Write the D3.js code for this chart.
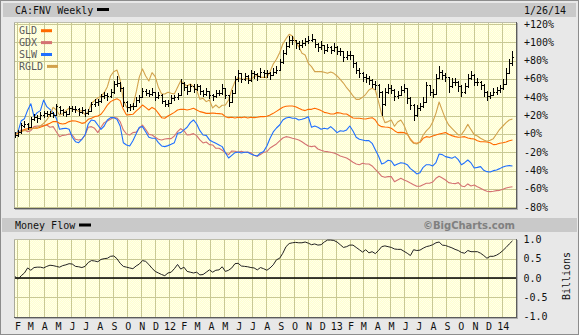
<!DOCTYPE html>
<html><head><meta charset="utf-8">
<script src="https://cdn.jsdelivr.net/npm/d3@7"></script>
<style>
html,body{margin:0;padding:0;background:#e8e8e8;}
svg{display:block;}
text{font-family:"DejaVu Sans Mono",monospace;font-size:10px;}
</style></head><body>
<svg id="c" width="579" height="335"></svg>
<script>
// ---------- DATA ----------
const firstWeek = "2011-01-28";   // weekly bars, one per week
const lastDateLabel = "1/26/14";
const symbol = "CA:FNV Weekly";

// FNV weekly OHLC, % change
const fnvOpen = [0,-1,2,9,11,8,16,19,17,21,23,22,23,21,29,26,24,22,28,27,27,24,26,23,25,33,35,36,41,43,41,46,55,56,50,35,29,30,31,37,40,47,45,44,46,40,43,36,33,34,39,40,43,56,51,47,52,49,52,47,44,47,42,41,45,45,50,42,35,45,60,66,60,63,59,66,65,63,68,66,66,64,68,70,78,88,96,103,102,99,97,99,101,103,104,98,95,97,92,95,92,95,91,90,84,86,86,77,70,66,62,61,59,55,53,46,33,46,50,48,41,43,48,50,39,32,21,28,30,35,53,46,44,61,68,64,62,52,57,57,52,46,52,61,64,57,57,53,46,41,43,46,48,50,55,66,77];
const fnvHigh = [2,4,12,14,12,18,22,21,24,25,25,25,24,33,30,27,25,30,31,30,28,29,27,27,35,38,38,44,46,45,49,58,63,57,51,36,33,34,40,43,50,49,48,50,46,46,44,37,37,42,43,45,60,57,53,55,54,55,53,48,50,47,44,48,48,54,50,43,48,63,70,67,66,64,70,69,67,72,70,70,68,72,74,82,92,100,107,107,103,101,103,105,107,109,104,99,101,97,98,96,99,96,94,90,90,90,86,78,72,68,65,63,60,58,54,47,50,54,53,49,47,52,54,50,40,33,32,34,40,57,53,49,65,74,70,67,62,61,61,58,53,56,65,69,65,61,58,54,47,46,50,51,53,60,72,82,90];
const fnvLow = [-3,-2,1,8,5,8,15,13,16,19,20,20,19,21,23,21,20,22,25,24,21,23,20,22,25,31,32,35,39,37,40,45,52,47,30,25,26,27,30,35,40,42,41,43,37,39,34,30,31,34,37,38,43,48,44,47,46,48,44,41,43,39,37,40,42,44,39,31,35,45,58,57,59,56,58,61,59,62,62,62,60,64,66,70,77,87,95,98,94,93,95,97,99,101,95,91,93,88,90,88,91,87,86,80,82,82,73,66,62,58,57,55,51,49,40,21,32,45,45,37,39,43,46,34,27,15,20,26,29,35,42,40,44,61,60,58,46,51,53,47,41,45,51,60,53,53,49,41,37,39,42,44,46,49,55,66,75];
const fnvClose = [-1,2,10,11,8,16,19,17,21,23,22,23,21,30,26,24,22,28,27,27,24,26,23,25,33,35,36,41,43,41,46,55,56,50,35,29,30,31,37,40,47,45,44,46,40,43,36,33,34,39,40,43,56,51,47,52,49,52,47,44,47,42,41,45,45,50,42,35,45,60,66,60,63,59,66,65,63,68,66,66,64,68,70,78,88,96,103,102,99,97,99,101,103,104,98,95,97,92,95,92,95,91,90,84,86,86,77,70,66,62,61,59,55,53,46,33,46,50,48,41,43,48,50,39,32,21,28,30,35,53,46,44,61,68,64,62,52,57,57,52,46,52,61,64,57,57,53,46,41,43,46,48,50,55,66,77,84];

const gld = [0,0.7,2.5,5,5.8,6.2,6.2,6.2,7.3,8.7,10.2,11.6,13.5,13.5,11.6,10.9,11.6,13.5,14.5,14.2,13.1,11.6,12.4,16,17.1,18.9,19.6,21.5,26.2,31.6,35.3,37.1,38.5,36.4,26.9,20.7,21.1,21.5,25,28,31.6,29,26.2,29,27,22.5,17.8,17.1,19.6,21.5,23.6,26.2,26.9,26.9,26.2,26.9,28,26.2,24.4,23.6,22.5,22.5,22.9,22.5,22.2,21.8,18.9,17.8,18.2,17.5,18.2,17.8,18.5,17.5,18.2,17.8,18.2,18.9,18.9,19.3,20.7,22.5,24.7,26.9,29.1,30.2,30.5,30.5,29.8,28,26.5,25.5,26.9,26.9,28,26.9,25.5,23.6,22.9,21.8,21.8,23.3,22.9,21.8,21.8,19.6,17.5,17.1,17.1,16.7,16.4,17.1,17.8,15.3,9.8,8,7.6,7.3,6.2,3.6,1.5,1.8,1.5,0,-5.5,-9.5,-10.2,-9.1,-4.7,-2.9,-3.6,-2.2,-1.1,0,0.7,1.5,-0.4,-1.8,-2.9,-3.6,-3.3,-2.9,-4.4,-5.1,-5.5,-7.3,-8.4,-8.4,-8.7,-9.5,-11.6,-11.3,-10.2,-9.5,-8.7,-7.3,-6.5];
const gdx = [0,1.5,4.4,4.4,2.5,3.6,8,8.7,8.7,9.1,9.8,7.3,8,2.5,-2.9,-1.5,-1.1,0,-1.1,-5.8,-6.5,-5.8,-1.1,7.3,8,6.2,1.5,7.3,12.4,14.2,16,18.2,17.5,13.5,4.4,0,-1.1,1.5,2,6,9.8,5.1,-0.4,-1.1,-3.6,-5.8,-6.5,-5.5,-5.1,-5.1,-2.2,2.5,5.8,3.6,-1.1,-0.7,0.4,-1.8,-6.5,-9.8,-8.7,-11.6,-12,-15.6,-15.6,-17.8,-20.4,-22.5,-18.5,-18.9,-20,-18.9,-20,-19.6,-20.4,-23.3,-24.4,-22.5,-20,-19.3,-15.3,-13.1,-10.9,-7.6,-4.4,-2.9,-3.6,-4.7,-5.5,-6.5,-8.4,-10.9,-13.1,-13.8,-13.1,-16.4,-17.8,-18.9,-19.3,-20,-20.7,-22.2,-24,-25.1,-26.2,-28.4,-30.9,-32.7,-33.5,-32,-32.7,-32.7,-34.9,-38.5,-42.2,-46.2,-47.3,-46.5,-46.5,-52,-50.2,-48.4,-50.2,-51.6,-53.5,-55.3,-57.1,-57.1,-55.3,-53.8,-53.8,-52.4,-48.4,-46.2,-48,-50.2,-53.1,-53.8,-54.2,-53.1,-56.7,-57.5,-54.5,-56.7,-55.6,-57.5,-59.3,-61.1,-62.5,-62.9,-62.5,-61.8,-61.5,-60.4,-58.9,-58.2,-57.5];
const slw = [0,2.5,14.5,16.7,26,33,18.9,23.3,25.5,37,29.8,26.9,23.3,17.1,5.1,5.8,6.2,5.1,-3.6,-8.4,-9.5,-5.8,-1.1,10.9,15.3,14.5,9.8,5.1,8.7,15.3,17.8,17.8,16,8.7,-9.5,-12,-13.1,-7.3,0,7.3,8,2.5,-3.6,-4.7,-4.7,-9.5,-13.1,-13.8,-12.7,-11.3,-9.5,0.7,1.5,4.4,7.3,12.4,15.3,10.9,3.6,-1.1,-1.5,-6.5,-8.4,-10.2,-12,-13.8,-20.4,-26.2,-23.3,-20.4,-19.6,-20.7,-20,-20,-21.8,-23.3,-24,-20.7,-19,-13.1,-4.7,2.2,6.5,9.8,15.3,17.5,18.2,17.1,17.1,15.3,16,17.1,18.9,7.3,8.7,7.3,5.1,6.2,5.5,8,5.1,1.5,3.6,2.9,4.4,8.7,3.3,-3.6,-5.8,-6.5,-7.3,-7.3,-10.2,-17.1,-24,-32.7,-31.3,-28.7,-29.5,-34.5,-32.7,-31.3,-32,-33.5,-37.8,-40.4,-43.6,-42.2,-36.4,-33.5,-33.5,-34.9,-31.3,-21.8,-22.5,-24.7,-25.5,-26.5,-24.7,-28,-33.5,-31.3,-28.4,-31.6,-37.1,-36.4,-35.6,-39.6,-41.1,-41.5,-40,-39.3,-37.8,-36,-34.9,-34.5,-34.9];
const rgld = [0,1.5,2.9,3.6,4.4,5.5,6.2,7.3,8.7,11.6,15.3,20.7,29.1,26.2,20.7,22.2,25.5,28,27.6,26.2,24.7,25.5,21.1,24.4,33.5,36.4,39.3,41.1,45.1,51.6,63.3,68,69.8,58.9,37.1,29.1,28.4,30.5,45,62,71,63.3,57.8,66.9,62.5,50.9,43.6,43.6,45.5,44.4,43.6,50.9,58.2,54.5,52.4,54.5,51.6,48,37.8,38.9,35.3,37.1,28.4,31.6,28.4,31.3,31.6,37.1,48.7,57.1,61.8,59.6,60,60.7,59.6,62.5,64,61.8,61.8,61.8,68,76.4,81.5,88.7,98.2,104,108.7,106.9,100.4,95.3,88,86.2,77.1,73.5,68,68,68,67.3,66.2,67.6,66.2,63.3,59.6,55.6,50.5,46.5,41.5,37.8,37.8,40,43.3,48,49.8,48,35.3,21.5,12.4,13.5,15.3,8.4,13.1,15.3,9.5,0.7,-6.5,-10.2,-10.9,-8.7,-1.1,3.3,6.9,13.1,22.5,34.9,25.5,16.4,9.8,6.2,2.5,-1.1,-0.7,4.4,10.5,4.7,-0.7,-2.2,-4.7,-6.5,-8,-6.9,-5.1,0,5.1,8.7,12.4,15.3,16.4];

// Money Flow, billions
const moneyFlow = [0.04,-0.03,0.06,0.13,0.26,0.2,0.27,0.28,0.28,0.26,0.3,0.33,0.32,0.3,0.28,0.32,0.34,0.37,0.36,0.3,0.29,0.27,0.3,0.4,0.45,0.44,0.42,0.48,0.5,0.51,0.56,0.57,0.5,0.38,0.3,0.28,0.26,0.24,0.31,0.36,0.45,0.43,0.35,0.25,0.17,0.13,0.09,0.06,0.13,0.15,0.24,0.35,0.23,0.28,0.17,0.15,0.13,0.15,0.08,0.09,0.15,0.21,0.15,0.2,0.21,0.29,0.17,0.2,0.26,0.37,0.38,0.31,0.3,0.29,0.27,0.26,0.21,0.27,0.24,0.2,0.26,0.34,0.47,0.51,0.64,0.81,0.89,0.91,0.92,0.91,0.91,0.93,0.9,0.86,0.88,0.85,0.86,0.93,0.98,0.98,0.97,0.93,0.86,0.79,0.81,0.85,0.85,0.79,0.73,0.67,0.73,0.65,0.68,0.63,0.71,0.81,0.83,0.81,0.79,0.75,0.74,0.74,0.69,0.64,0.58,0.73,0.71,0.72,0.77,0.81,0.83,0.86,0.91,0.93,0.85,0.84,0.81,0.78,0.74,0.71,0.66,0.64,0.71,0.68,0.68,0.68,0.64,0.58,0.51,0.56,0.56,0.59,0.64,0.71,0.79,0.88,0.96];

const seriesNames = ["GLD","GDX","SLW","RGLD"];
const seriesColors = ["#ff6a00","#d47272","#1f6fff","#d2a24c"];
const monthLabels = ["F","M","A","M","J","J","A","S","O","N","D","12","F","M","A","M","J","J","A","S","O","N","D","13","F","M","A","M","J","J","A","S","O","N","D","14"];
const pctTicks = [120,100,80,60,40,20,0,-20,-40,-60,-80];
const pctLabels = ["+120%","+100%","+80%","+60%","+40%","+20%","+0%","-20%","-40%","-60%","-80%"];
const mfTicks = [1.0,0.5,0.0,-0.5,-1.0];
const mfLabels = ["1.0","0.5","0.0","-0.5","-1.0"];

// ---------- DRAW ----------
const W = 579, H = 335;
const svg = d3.select("#c");
const start = d3.timeParse("%Y-%m-%d")(firstWeek);
const dates = d3.range(fnvClose.length).map(i => d3.timeDay.offset(start, 7 * i));
const months = d3.timeMonth.range(new Date(2011, 1, 1), new Date(2014, 0, 2));

const PL = 14, PR = 516;
const x = d3.scaleTime().domain([new Date(2011, 1, 1), new Date(2014, 0, 1)]).range([16.7, 502]);
const yP = d3.scaleLinear().domain([-80, 120]).range([207.3, 24]);
const yM = d3.scaleLinear().domain([-1, 1]).range([316.7, 239.3]);

svg.append("rect").attr("width", W).attr("height", H).attr("fill", "#e8e8e8");

const defs = svg.append("defs");
const pat = defs.append("pattern").attr("id", "dith").attr("width", 2).attr("height", 2)
  .attr("patternUnits", "userSpaceOnUse");
pat.append("rect").attr("width", 2).attr("height", 2).attr("fill", "#ffffcf");
pat.append("rect").attr("width", 1).attr("height", 1).attr("fill", "#ffffea");
pat.append("rect").attr("x", 1).attr("y", 1).attr("width", 1).attr("height", 1).attr("fill", "#ffffea");

// header strips
svg.append("rect").attr("x", 3).attr("y", 3).attr("width", 573).attr("height", 14).attr("fill", "#c9c9c9");
svg.append("rect").attr("x", 2).attr("y", 218).attr("width", 575).attr("height", 14).attr("fill", "#c9c9c9");

svg.append("text").attr("x", 15).attr("y", 13.5).attr("fill", "#111").text(symbol);
svg.append("rect").attr("x", 97).attr("y", 8).attr("width", 12).attr("height", 3).attr("fill", "#000");
svg.append("text").attr("x", 524).attr("y", 13.5).attr("fill", "#111").text(lastDateLabel);

svg.append("text").attr("x", 15).attr("y", 228.5).attr("fill", "#111").text("Money Flow");
svg.append("rect").attr("x", 79).attr("y", 223.5).attr("width", 12).attr("height", 3).attr("fill", "#000");
svg.append("text").attr("x", 515).attr("y", 229).attr("text-anchor", "end")
  .style("font-family", "'DejaVu Sans',Verdana,sans-serif").style("font-weight", "bold")
  .style("font-size", "10px").attr("textLength", 92).attr("fill", "#808080").text("\u00A9BigCharts.com");

function panel(top, bottom, yScale, ticks, id) {
  const g = svg.append("g");
  g.append("rect").attr("x", PL).attr("y", top).attr("width", PR - PL).attr("height", bottom - top)
    .attr("fill", "url(#dith)");
  g.selectAll(null).data(months).join("line")
    .attr("x1", d => Math.round(x(d)) + 0.5).attr("x2", d => Math.round(x(d)) + 0.5)
    .attr("y1", top).attr("y2", bottom).attr("stroke", "#c9c994").attr("stroke-width", 1);
  g.selectAll(null).data(ticks).join("line")
    .attr("x1", PL).attr("x2", PR)
    .attr("y1", d => Math.round(yScale(d)) + 0.5).attr("y2", d => Math.round(yScale(d)) + 0.5)
    .attr("stroke", "#c9c994").attr("stroke-width", 1);
  // border + shadow
  g.append("line").attr("x1", PL + 0.5).attr("x2", PL + 0.5).attr("y1", top).attr("y2", bottom).attr("stroke", "#a9a99a");
  g.append("line").attr("x1", PL).attr("x2", PR).attr("y1", top + 0.5).attr("y2", top + 0.5).attr("stroke", "#bdbdab");
  g.append("line").attr("x1", PL).attr("x2", PR + 1).attr("y1", bottom + 0.5).attr("y2", bottom + 0.5).attr("stroke", "#5c5c5c");
  g.append("line").attr("x1", PL + 1).attr("x2", PR + 2).attr("y1", bottom + 1.5).attr("y2", bottom + 1.5).attr("stroke", "#b0b0b0");
  g.append("line").attr("x1", PR + 0.5).attr("x2", PR + 0.5).attr("y1", top).attr("y2", bottom + 1).attr("stroke", "#5c5c5c");
  g.append("line").attr("x1", PR + 1.5).attr("x2", PR + 1.5).attr("y1", top + 1).attr("y2", bottom + 2).attr("stroke", "#b0b0b0");
  defs.append("clipPath").attr("id", id).append("rect")
    .attr("x", PL + 1).attr("y", top).attr("width", PR - PL - 1).attr("height", bottom - top);
  return g;
}

// ---- main panel ----
const gMain = panel(22, 208, yP, pctTicks, "clipMain");
const plotMain = svg.append("g").attr("clip-path", "url(#clipMain)");
const lineP = d3.line().x((d, i) => x(dates[i])).y(d => yP(d));
const seriesData = [gld, gdx, slw, rgld];
[1, 2, 0, 3].forEach(k => {
  plotMain.append("path").attr("d", lineP(seriesData[k])).attr("fill", "none")
    .attr("stroke", seriesColors[k]).attr("stroke-width", 1.1).attr("stroke-linejoin", "round");
});
// FNV OHLC bars
const bars = plotMain.append("g").attr("stroke", "#000").attr("stroke-width", 1).attr("shape-rendering", "crispEdges");
dates.forEach((d, i) => {
  const cx = Math.round(x(d)) + 0.5;
  bars.append("line").attr("x1", cx).attr("x2", cx).attr("y1", yP(fnvHigh[i])).attr("y2", yP(fnvLow[i]) + 1);
  bars.append("line").attr("x1", cx - 1.5).attr("x2", cx).attr("y1", Math.round(yP(fnvOpen[i])) + 0.5).attr("y2", Math.round(yP(fnvOpen[i])) + 0.5);
  bars.append("line").attr("x1", cx).attr("x2", cx + 1.5).attr("y1", Math.round(yP(fnvClose[i])) + 0.5).attr("y2", Math.round(yP(fnvClose[i])) + 0.5);
});

// legend
seriesNames.forEach((n, k) => {
  const cy = 30.7 + k * 11.9;
  svg.append("text").attr("x", 19).attr("y", cy + 3.5).attr("fill", "#5a5a5a").text(n);
  svg.append("rect").attr("x", n.length > 3 ? 47 : 41).attr("y", cy - 1.5).attr("width", 11).attr("height", 3)
    .attr("fill", seriesColors[k]);
});

// right axis labels
svg.selectAll(null).data(pctTicks).join("text")
  .attr("x", 524).attr("y", d => yP(d) + 3.5).attr("fill", "#111").text((d, i) => pctLabels[i]);

// ---- money flow panel ----
const gMF = panel(239, 317, yM, mfTicks, "clipMF");
const plotMF = svg.append("g").attr("clip-path", "url(#clipMF)");
plotMF.append("line").attr("x1", PL).attr("x2", PR).attr("y1", yM(0)).attr("y2", yM(0))
  .attr("stroke", "#000").attr("stroke-width", 1.3);
const lineM = d3.line().x((d, i) => x(dates[i])).y(d => yM(d));
plotMF.append("path").attr("d", lineM(moneyFlow)).attr("fill", "none").attr("stroke", "#222").attr("stroke-width", 1);

svg.selectAll(null).data(mfTicks).join("text")
  .attr("x", 523.5).attr("y", d => yM(d) + 3.5).attr("fill", "#111").text((d, i) => mfLabels[i]);
svg.append("text").attr("transform", "translate(569.5,276) rotate(-90)").attr("text-anchor", "middle")
  .attr("fill", "#111").text("Billions");

// month labels
svg.selectAll(null).data(months).join("text")
  .attr("x", d => x(d) + 1.2).attr("y", 330).attr("text-anchor", "middle").attr("fill", "#111")
  .text((d, i) => monthLabels[i]);

// outer border
svg.append("rect").attr("x", 0.5).attr("y", 0.5).attr("width", W - 1).attr("height", H - 1)
  .attr("fill", "none").attr("stroke", "#8c8c8c");
</script>
</body></html>
